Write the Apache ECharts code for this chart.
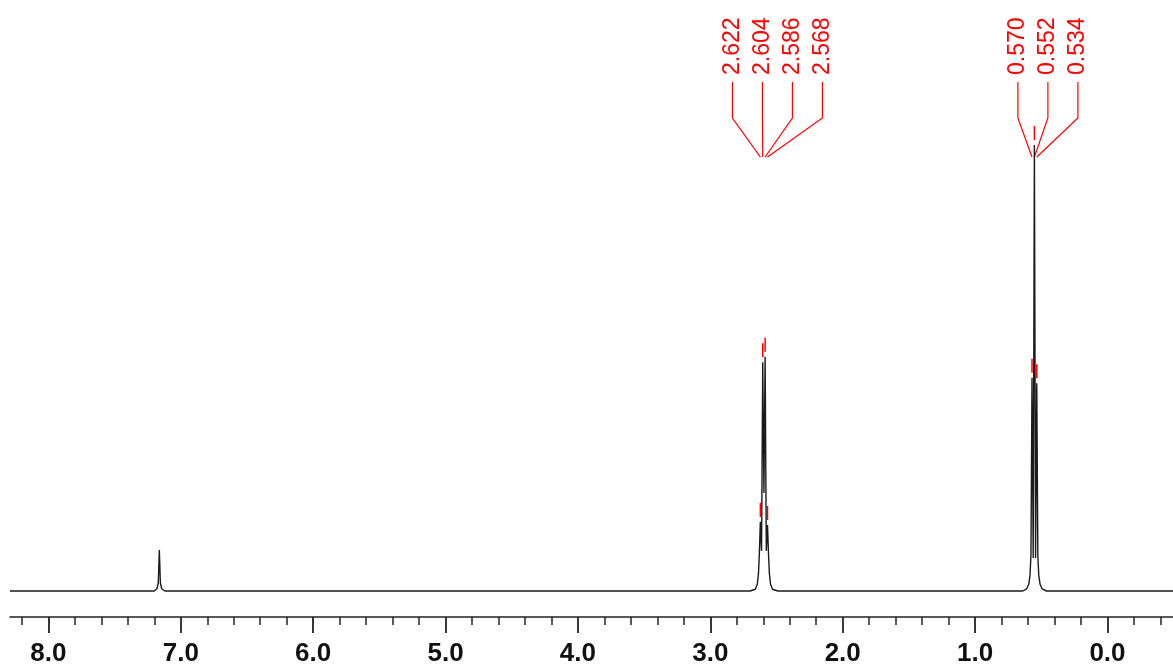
<!DOCTYPE html>
<html style="height: 100%">

<head>
    <meta charset="utf-8">
</head>

<body style="height: 100%; margin: 0; background: #fff">
    <div id="container" style="height: 100%"></div>
    <script type="text/javascript" src="https://cdn.jsdelivr.net/npm/echarts@6/dist/echarts.min.js"></script>
    <script type="text/javascript">
        // ppm range shown on the axis (inverted, high ppm on the left)
        var ppmMin = -0.495;
        var ppmMax = 8.29;

        var majorTicks = [0, 1, 2, 3, 4, 5, 6, 7, 8];
        var minorTicks = [-0.4, -0.2, 0.2, 0.4, 0.6, 0.8, 1.2, 1.4, 1.6, 1.8, 2.2, 2.4, 2.6, 2.8,
            3.2, 3.4, 3.6, 3.8, 4.2, 4.4, 4.6, 4.8, 5.2, 5.4, 5.6, 5.8, 6.2, 6.4, 6.6, 6.8,
            7.2, 7.4, 7.6, 7.8, 8.2];

        // spectrum: [ppm, intensity]
        var baseline = [[8.29, 0], [7.6, 0], [7.365, 0], [7.36, 0.35], [7.355, 0], [6.965, 0], [6.96, 0.25],
            [6.955, 0], [5.8, 0], [5.255, 0], [5.25, 0.15], [5.245, 0], [4.4, 0], [3.205, 0], [3.2, 0.15], [3.195, 0],
            [2.75, 0], [2.405, 0], [2.4, 0.12], [2.395, 0], [1.305, 0], [1.3, 0.12], [1.295, 0], [0.8, 0],
            [0.305, 0], [0.3, 0.1], [0.295, 0], [-0.495, 0]];
        var aromaticSignal = [[7.2, 0], [7.18, 0.5], [7.17, 1.8], [7.162, 9.2], [7.154, 1.8], [7.144, 0.5], [7.12, 0]];
        var quartetSignal = [[2.7, 0], [2.66, 0.4], [2.645, 1.5], [2.636, 4], [2.63, 8], [2.622, 15.5],
            [2.613, 9], [2.604, 51.3], [2.595, 22], [2.586, 52.5], [2.577, 9], [2.568, 14.8],
            [2.56, 8], [2.554, 4], [2.545, 1.5], [2.53, 0.4], [2.49, 0]];
        var tripletSignal = [[0.64, 0], [0.61, 0.5], [0.595, 1.5], [0.585, 3.5], [0.578, 8], [0.57, 47.8],
            [0.561, 7.4], [0.552, 100], [0.543, 7.4], [0.534, 46.6], [0.526, 8], [0.519, 3.5],
            [0.509, 1.5], [0.494, 0.5], [0.46, 0]];

        // picked peaks
        var peakPicks = [2.622, 2.604, 2.586, 2.568, 0.570, 0.552, 0.534];
        var peakPickHeights = [15.5, 51.3, 52.5, 14.8, 47.8, 100, 46.6];
        var peakGroups = [0, 0, 0, 0, 1, 1, 1];

        var spectrum = baseline.concat(aromaticSignal, quartetSignal, tripletSignal)
            .sort(function(a, b) { return b[0] - a[0]; });

        // per-group slot info for the label fan
        var groupInfo = {};
        peakPicks.forEach(function(p, i) {
            var g = peakGroups[i];
            if (!groupInfo[g]) groupInfo[g] = { sum: 0, n: 0 };
            groupInfo[g].sum += p;
            groupInfo[g].n++;
        });
        var slotCount = {};
        var pickData = peakPicks.map(function(p, i) {
            var g = peakGroups[i];
            slotCount[g] = (slotCount[g] || 0);
            var slot = slotCount[g]++;
            return [p, peakPickHeights[i], slot, groupInfo[g].n, groupInfo[g].sum / groupInfo[g].n];
        });

        var red = '#ff0000';

        function renderPick(params, api) {
            var ppm = api.value(0);
            var top = api.coord([ppm, api.value(1)]);
            var slot = api.value(2);
            var n = api.value(3);
            var cx = api.coord([api.value(4), 0])[0];
            var lx = cx + 13.5 + (slot - (n - 1) / 2) * 30;
            return {
                type: 'group',
                children: [{
                    type: 'text',
                    x: lx,
                    y: 75,
                    rotation: Math.PI / 2,
                    style: {
                        text: ppm.toFixed(3),
                        fill: red,
                        font: '23px "Liberation Sans", Arial, sans-serif',
                        align: 'left',
                        verticalAlign: 'middle'
                    }
                }, {
                    type: 'polyline',
                    shape: { points: [[lx, 82], [lx, 118], [top[0], 157]] },
                    style: { stroke: red, lineWidth: 1.2, fill: null }
                }, {
                    type: 'line',
                    shape: { x1: top[0], y1: top[1] - 5, x2: top[0], y2: top[1] - 19 },
                    style: { stroke: red, lineWidth: 1.5 }
                }]
            };
        }

        var dom = document.getElementById("container");
        var myChart = echarts.init(dom);
        var option = {
            animation: false,
            backgroundColor: '#fff',
            // axis line sits at 617px, spectrum baseline (y = 0) at 591px
            grid: { left: 10, right: 0, top: 145, bottom: 51 },
            xAxis: [{
                type: 'value',
                min: ppmMin,
                max: ppmMax,
                inverse: true,
                position: 'bottom',
                splitLine: { show: false },
                axisLine: { onZero: false, lineStyle: { color: '#222', width: 1.5 } },
                axisTick: { show: true, customValues: majorTicks, length: 16, lineStyle: { color: '#222', width: 1.8 } },
                axisLabel: {
                    customValues: majorTicks,
                    margin: 24,
                    color: '#111',
                    fontWeight: 'bold',
                    fontSize: 26,
                    fontFamily: '"Liberation Sans", Arial, sans-serif',
                    formatter: function(v) { return v.toFixed(1); }
                }
            }, {
                type: 'value',
                min: ppmMin,
                max: ppmMax,
                inverse: true,
                position: 'bottom',
                splitLine: { show: false },
                axisLine: { show: false, onZero: false },
                axisTick: { customValues: minorTicks, length: 8, lineStyle: { color: '#222', width: 1.5 } },
                axisLabel: { show: false }
            }],
            yAxis: { type: 'value', min: -5.83, max: 100, show: false },
            series: [{
                type: 'line',
                data: spectrum,
                showSymbol: false,
                lineStyle: { color: '#1a1a1a', width: 1.4 }
            }, {
                type: 'custom',
                data: pickData,
                renderItem: renderPick,
                clip: false,
                silent: true
            }]
        };
        myChart.setOption(option);
    </script>
</body>

</html>
